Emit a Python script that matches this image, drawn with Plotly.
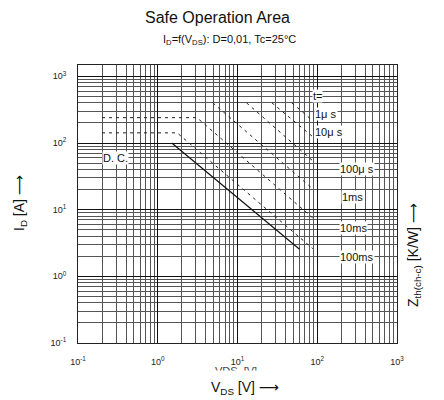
import numpy as np
import plotly.graph_objects as go

# ---- data ----
dc_V = [1.5, 60.0]
dc_I = [100.0, 2.55]

ms100_V = [0.2, 1.75, 88.0]
ms100_I = [142.0, 142.0, 2.6]

ms10_V = [0.2, 3.1, 88.0]
ms10_I = [240.0, 240.0, 7.5]

ms1_V = [4.9, 88.0]
ms1_I = [400.0, 20.5]

us100_V = [13.0, 88.0]
us100_I = [400.0, 54.0]

us10_V = [27.0, 88.0]
us10_I = [400.0, 124.0]

us1_V = [48.0, 88.0]
us1_I = [400.0, 215.0]

label_text = ["t=", "1\u03bc s", "10\u03bc s", "100\u03bc s", "1ms", "10ms", "100ms", "D. C."]
label_V = [85.0, 91.0, 91.0, 190.0, 196.0, 190.0, 186.0, 0.2]
label_I = [500.0, 272.0, 147.0, 41.0, 15.6, 5.3, 1.95, 60.0]

tick_vals = [0.1, 1, 10, 100, 1000]
tick_text = ["10<sup>-1</sup>", "10<sup>0</sup>", "10<sup>1</sup>", "10<sup>2</sup>", "10<sup>3</sup>"]

FONT = "Liberation Sans, Arial, DejaVu Sans, sans-serif"

fig = go.Figure()

dash = "3px,4px"
for V, I in [(ms100_V, ms100_I), (ms10_V, ms10_I), (ms1_V, ms1_I),
             (us100_V, us100_I), (us10_V, us10_I), (us1_V, us1_I)]:
    fig.add_trace(go.Scatter(x=V, y=I, mode="lines",
                             line=dict(color="#222", width=1, dash=dash),
                             showlegend=False, hoverinfo="skip"))
fig.add_trace(go.Scatter(x=dc_V, y=dc_I, mode="lines",
                         line=dict(color="#111", width=1.2),
                         showlegend=False, hoverinfo="skip"))

for t, v, i in zip(label_text, label_V, label_I):
    fig.add_annotation(x=np.log10(v), y=np.log10(i), xref="x", yref="y",
                       text=t, showarrow=False, xanchor="left", yanchor="middle",
                       font=dict(family=FONT, size=11, color="#111"),
                       bgcolor="white", borderpad=0)

axis_common = dict(type="log", showline=True, linecolor="#222", linewidth=1, mirror=True,
                   showgrid=True, gridcolor="#111", gridwidth=1,
                   tickvals=tick_vals, ticktext=tick_text, ticks="",
                   tickfont=dict(family=FONT, size=9, color="#222"),
                   minor=dict(showgrid=True, dtick="D1", gridcolor="#555", gridwidth=1),
                   zeroline=False)

fig.update_xaxes(range=[-1, 3], ticklabelstandoff=10, **axis_common)
fig.update_yaxes(range=[-1, 3.17], ticklabelstandoff=9, **axis_common)


def px_ann(px, py, text, size, color="#111", angle=0, **kw):
    fig.add_annotation(x=(px - 78) / 319, y=(343 - py) / 278, xref="paper", yref="paper",
                       xanchor="center", yanchor="middle", text=text, showarrow=False,
                       textangle=angle, font=dict(family=FONT, size=size, color=color), **kw)


# clipped scan remnant below the x ticks (drawn first so the title sits above)
px_ann(236, 371, "VDS  [V]", 11, color="#444")
fig.add_annotation(x=(236 - 78) / 319, y=(343 - 376) / 278, xref="paper", yref="paper",
                   xanchor="center", yanchor="middle",
                   text=" ", showarrow=False, width=60, height=8, bgcolor="white")

# titles and axis labels
px_ann(217, 18, "Safe Operation Area", 16)
px_ann(229, 40, "I<sub>D</sub>=f(V<sub>DS</sub>): D=0,01, Tc=25\u00b0C", 11)
px_ann(245, 388, "V<sub>DS</sub> [V] \u27f6", 14)
px_ann(20, 203, "I<sub>D</sub> [A] \u27f6", 14, angle=-90)
px_ann(414, 255, "Z<sub>th(ch-c)</sub> [K/W] \u27f6", 14, angle=-90)

fig.update_layout(width=444, height=400, autosize=False,
                  margin=dict(l=78, r=47, t=65, b=57),
                  paper_bgcolor="white", plot_bgcolor="white",
                  showlegend=False)

fig.write_html("out.html", config={"displayModeBar": False},
               post_script="document.body.style.margin='0';document.body.style.overflow='hidden';")
